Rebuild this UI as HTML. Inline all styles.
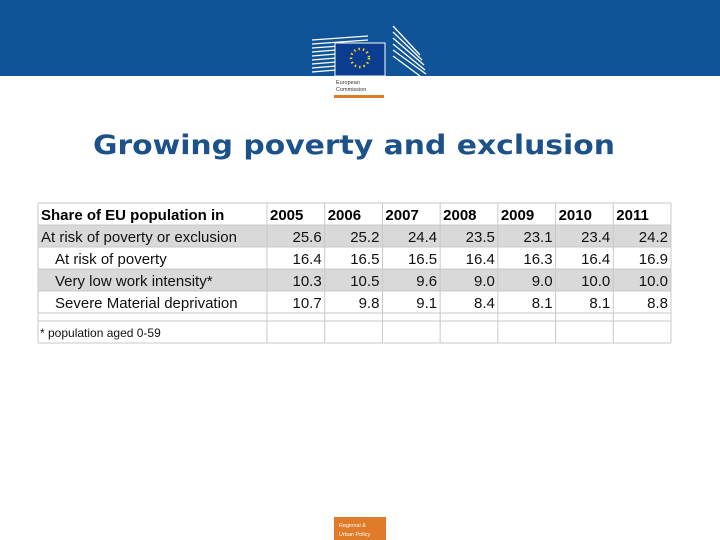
<!DOCTYPE html>
<html><head><meta charset="utf-8"><style>
html,body{margin:0;padding:0;background:#fff;}
svg{display:block;font-family:"Liberation Sans",Arial,sans-serif;}
</style></head><body>
<svg id="s" width="720" height="540" viewBox="0 0 720 540">
  <rect x="0" y="0" width="720" height="76" fill="#0f5496"/>
  <g>
    <rect x="333" y="76" width="52" height="24" fill="#fff"/>
    <g stroke="#fff" stroke-width="1.3">
      <line x1="312" y1="40" x2="368" y2="36"/><line x1="312" y1="44" x2="368" y2="40"/><line x1="312" y1="48" x2="368" y2="44"/>
      <line x1="312" y1="52" x2="336" y2="50"/><line x1="312" y1="56" x2="336" y2="54"/><line x1="312" y1="60" x2="336" y2="58"/>
      <line x1="312" y1="64" x2="336" y2="62"/><line x1="312" y1="68" x2="336" y2="66"/><line x1="312" y1="72" x2="336" y2="70"/>
      <line x1="393" y1="26" x2="420" y2="55"/><line x1="393" y1="32" x2="422" y2="60"/><line x1="393" y1="38" x2="424" y2="65"/>
      <line x1="393" y1="44" x2="425" y2="70"/><line x1="393" y1="50" x2="426" y2="74"/><line x1="393" y1="56" x2="420" y2="76"/>
    </g>
    <rect x="335" y="43" width="50" height="33" fill="#0a3d8f" stroke="#fff" stroke-width="1"/>
    <circle cx="360" cy="58" r="9" fill="none" stroke="#f7d417" stroke-width="2.5" stroke-dasharray="1.5 3"/>
    <text x="336" y="84" font-size="5.5" fill="#333">European</text>
    <text x="336" y="91" font-size="5.5" fill="#333">Commission</text>
    <rect x="334" y="95" width="50" height="3" fill="#e07b29"/>
  </g>
  <text x="93" y="154" font-family="'DejaVu Sans',sans-serif" font-weight="bold" font-size="27" fill="#1c5289" textLength="522" lengthAdjust="spacingAndGlyphs">Growing poverty and exclusion</text>
  <g id="tbl"></g>
  <g>
    <rect x="334" y="517" width="52" height="23" fill="#e07b29"/>
    <text x="339" y="527" font-size="5.5" fill="#fff">Regional &amp;</text>
    <text x="339" y="536" font-size="5.5" fill="#fff">Urban Policy</text>
  </g>
</svg>
<script>
const years = ["2005","2006","2007","2008","2009","2010","2011"];
const rowLabels = ["At risk of poverty or exclusion","At risk of poverty","Very low work intensity*","Severe Material deprivation"];
const riskPovertyExclusion = [25.6,25.2,24.4,23.5,23.1,23.4,24.2];
const riskPoverty = [16.4,16.5,16.5,16.4,16.3,16.4,16.9];
const lowWorkIntensity = [10.3,10.5,9.6,9.0,9.0,10.0,10.0];
const materialDeprivation = [10.7,9.8,9.1,8.4,8.1,8.1,8.8];
const series = [riskPovertyExclusion,riskPoverty,lowWorkIntensity,materialDeprivation];

const NS="http://www.w3.org/2000/svg";
const g=document.getElementById('tbl');
function mk(tag,attrs,txt){const e=document.createElementNS(NS,tag);for(const k in attrs)e.setAttribute(k,attrs[k]);if(txt!=null)e.textContent=txt;g.appendChild(e);return e;}
const L=38,R=671,C0=267,T0=203,rh=22;
const cw=(R-C0)/years.length;
const colX=i=>C0+i*cw;
const rowY=r=>T0+r*rh;
for(let r=0;r<rowLabels.length;r++){
  if(r%2===0){const b=mk('rect',{x:L,y:rowY(r+1),width:R-L,height:rh,fill:'#d9d9d9'});
  
  }
}
const ends=[T0,rowY(5),rowY(5)+8,rowY(5)+30];
const hy=[T0,rowY(1),rowY(2),rowY(3),rowY(4),rowY(5),rowY(5)+8,rowY(5)+30];
hy.forEach(y=>{const l=mk('line',{x1:L,x2:R,y1:y,y2:y,stroke:'#c8c8c8','stroke-width':1});

});
[L,C0].concat(years.map((_,i)=>colX(i+1))).forEach(x=>{const l=mk('line',{x1:x,x2:x,y1:T0,y2:ends[3],stroke:'#c8c8c8','stroke-width':1});

});
const h=mk('text',{x:L+3,y:T0+17,'font-size':15,'font-weight':'bold',fill:'#000'},'Share of EU population in');


years.forEach((yv,i)=>{const t=mk('text',{x:colX(i)+3,y:T0+17,'font-size':15,'font-weight':'bold',fill:'#000'},yv);

});
rowLabels.forEach((lab,r)=>{
  const t=mk('text',{x:L+(r===0?3:17),y:rowY(r+1)+17,'font-size':15,fill:'#111'},lab);
  
  
  series[r].forEach((v,i)=>{
    const c=mk('text',{x:colX(i+1)-3,y:rowY(r+1)+17,'font-size':15,fill:'#111','text-anchor':'end'},v.toFixed(1));
    
    
  });
});
const f=mk('text',{x:L+2,y:ends[3]-6,'font-size':12,fill:'#111'},'* population aged 0-59');


</script>
</body></html>
